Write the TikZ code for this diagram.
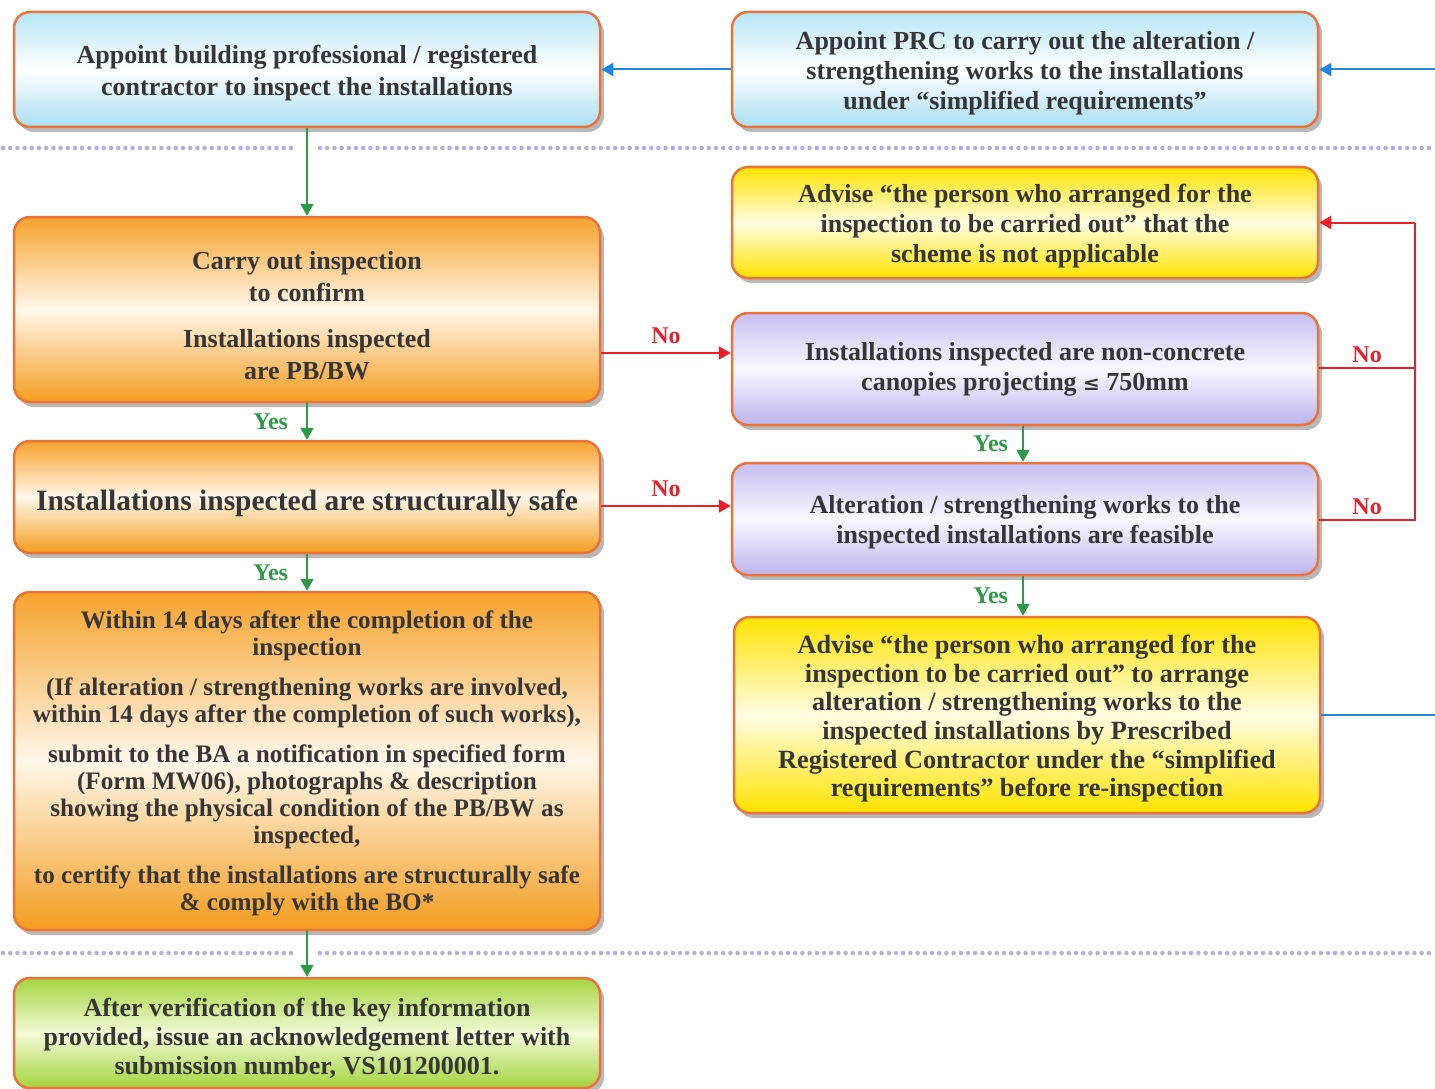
\documentclass[tikz,border=0pt]{standalone}
\usepackage{fontspec}
\setmainfont{Liberation Serif}
\usetikzlibrary{arrows.meta,shadows,calc}
\definecolor{bord}{HTML}{E8743B}
\definecolor{txt}{HTML}{363636}
\definecolor{gr}{HTML}{2E9A48}
\definecolor{rd}{HTML}{E8202A}
\definecolor{bl}{HTML}{1E88E0}
\definecolor{dots}{HTML}{B4ACDC}
\definecolor{cyanA}{HTML}{B6E5F6}
\definecolor{cyanB}{HTML}{A9DEF2}
\definecolor{orA}{HTML}{F6A22C}
\definecolor{orB}{HTML}{F39C1E}
\definecolor{orM}{HTML}{FFF7EA}
\definecolor{yeA}{HTML}{FFE300}
\definecolor{yeM}{HTML}{FFFCE2}
\definecolor{liA}{HTML}{C6BEF0}
\definecolor{liB}{HTML}{BCB2EC}
\definecolor{liM}{HTML}{F9F8FF}
\definecolor{grA}{HTML}{A4D43E}
\definecolor{grM}{HTML}{F3FAD6}
\tikzset{
  box/.style={rectangle, rounded corners=16pt, draw=bord, line width=2.5pt,
    align=center, text=txt, inner sep=3pt,
    font=\bfseries\fontsize{26}{30}\selectfont,
    drop shadow={shadow xshift=4pt, shadow yshift=-5pt, fill=black, opacity=0.28}},
  bluebox/.style={box, top color=cyanA, bottom color=cyanB, middle color=white},
  orbox/.style={box, top color=orA, bottom color=orB, middle color=orM},
  yebox/.style={box, top color=yeA, bottom color=yeA, middle color=yeM},
  libox/.style={box, top color=liA, bottom color=liB, middle color=liM},
  grbox/.style={box, top color=grA, bottom color=grA, middle color=grM},
  conn/.style={line width=2pt, -{Triangle[width=13pt,length=12pt]}},
  garrow/.style={conn, draw=gr},
  rarrow/.style={conn, draw=rd},
  barrow/.style={conn, draw=bl},
  rline/.style={line width=2pt, draw=rd},
  bline/.style={line width=2pt, draw=bl},
  ylab/.style={text=gr, font=\bfseries\fontsize{24}{26}\selectfont, inner sep=2pt},
  nlab/.style={text=rd, font=\bfseries\fontsize{24}{26}\selectfont, inner sep=2pt},
  dotline/.style={draw=dots, line width=4.5pt, line cap=round, dash pattern=on 0pt off 7.2pt}
}
\begin{document}
\begin{tikzpicture}[x=1pt,y=-1pt]
\fill[white] (0,0) rectangle (1435,1089);
\useasboundingbox (0,0) rectangle (1435,1089);

% dotted separators
\draw[dotline] (3,148) -- (294,148);
\draw[dotline] (320,148) -- (1433,148);
\draw[dotline] (3,953) -- (294,953);
\draw[dotline] (320,953) -- (1433,953);

% boxes
\node[bluebox, minimum width=586pt, minimum height=115pt,
  font=\bfseries\fontsize{26}{32}\selectfont] (A1) at (307,69.5)
  {\rule{0pt}{26pt}Appoint building professional / registered\\contractor to inspect the installations};
\node[bluebox, minimum width=586pt, minimum height=115pt] (A2) at (1025,69.5)
  {\rule{0pt}{25pt}Appoint PRC to carry out the alteration /\\strengthening works to the installations\\under ``simplified requirements''};
\node[orbox, minimum width=586pt, minimum height=185pt,
  font=\bfseries\fontsize{26}{31.5}\selectfont] (B1) at (307,309.5)
  {\rule{0pt}{30pt}Carry out inspection\\to confirm\\[15pt]Installations inspected\\are PB/BW};
\node[yebox, minimum width=586pt, minimum height=111pt] (Y1) at (1025,222.5)
  {\rule{0pt}{25pt}Advise ``the person who arranged for the\\inspection to be carried out'' that the\\scheme is not applicable};
\node[libox, minimum width=586pt, minimum height=112pt] (P1) at (1025,369)
  {Installations inspected are non-concrete\\canopies projecting {\fontspec{DejaVu Serif}\fontsize{20}{30}\selectfont\bfseries ≤} 750mm};
\node[orbox, minimum width=586pt, minimum height=112pt,
  font=\bfseries\fontsize{29.5}{32}\selectfont] (B2) at (307,497)
  {\rule{0pt}{34pt}Installations inspected are structurally safe};
\node[libox, minimum width=586pt, minimum height=112pt] (P2) at (1025,519)
  {\rule{0pt}{25pt}Alteration / strengthening works to the\\inspected installations are feasible};
\node[orbox, minimum width=586pt, minimum height=338pt,
  font=\bfseries\fontsize{25.2}{27}\selectfont] (B3) at (307,761)
  {\rule{0pt}{22pt}Within 14 days after the completion of the\\inspection\\[13pt]
   (If alteration / strengthening works are involved,\\within 14 days after the completion of such works),\\[13pt]
   submit to the BA a notification in specified form\\(Form MW06), photographs \& description\\showing the physical condition of the PB/BW as\\inspected,\\[13pt]
   to certify that the installations are structurally safe\\\& comply with the BO*};
\node[yebox, minimum width=586pt, minimum height=196pt,
  font=\bfseries\fontsize{26.3}{28.6}\selectfont] (Y2) at (1027,715)
  {\rule{0pt}{26pt}Advise ``the person who arranged for the\\inspection to be carried out'' to arrange\\alteration / strengthening works to the\\inspected installations by Prescribed\\Registered Contractor under the ``simplified\\requirements'' before re-inspection};
\node[grbox, minimum width=586pt, minimum height=110pt,
  font=\bfseries\fontsize{26}{29}\selectfont] (G) at (307,1033)
  {\rule{0pt}{30pt}After verification of the key information\\provided, issue an acknowledgement letter with\\submission number, VS101200001.};

% off-page ends of the blue loop
\coordinate (Eout) at (1437,717);
\coordinate (Ein) at (1437,69.5);
\coordinate (Rv) at (1415,222.5);

% connectors
\draw[garrow] (A1.south) -- (B1.north);
\draw[garrow] (B1.south) -- node[ylab, left, xshift=-16pt] {Yes} (B2.north);
\draw[garrow] (B2.south) -- node[ylab, left, xshift=-16pt] {Yes} (B3.north);
\draw[garrow] (B3.south) -- (G.north);
\draw[rarrow] (B1.east |- 0,353) -- node[nlab, above, yshift=6pt] {No} (P1.west |- 0,353);
\draw[rarrow] (B2.east |- 0,506) -- node[nlab, above, yshift=6pt] {No} (P2.west |- 0,506);
\draw[garrow] (P1.south -| 1023,0) -- node[ylab, left, xshift=-12pt] {Yes} (P2.north -| 1023,0);
\draw[garrow] (P2.south -| 1023,0) -- node[ylab, left, xshift=-12pt] {Yes} (Y2.north -| 1023,0);
\draw[rline] (P1.east |- 0,368) -- node[nlab, above, yshift=2pt] {No} (Rv |- 0,368);
\draw[rline] (P2.east |- 0,520) -- node[nlab, above, yshift=2pt] {No} (Rv |- 0,520) -- (Rv);
\draw[rarrow] (Rv) -- (Y1.east);
\draw[bline] (Y2.east) -- (Y2.east -| Eout);
\draw[barrow] (Ein) -- (A2.east);
\draw[barrow] (A2.west) -- (A1.east);
\end{tikzpicture}
\end{document}
